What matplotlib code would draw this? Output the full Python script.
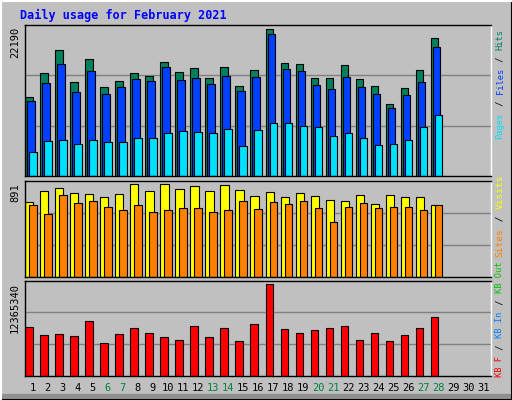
import matplotlib
matplotlib.use("Agg")
import matplotlib.pyplot as plt
import matplotlib.transforms as mtr
import numpy as np

days = list(range(1, 32))
n = 28
def sc(tops, base, span, vmax):
    return [(base - t) / span * vmax for t in tops]

hits_px = [232,160,91,187,118,202,184,160,169,127,157,145,175,142,199,151,28,130,133,175,175,136,178,199,253,205,151,55]
files_px = [244,190,133,217,154,223,202,178,184,142,181,175,193,169,214,172,43,148,154,196,208,172,202,223,265,226,187,82]
pages_px = [397,364,361,373,361,367,367,355,355,340,334,337,340,328,379,331,310,310,319,322,349,340,355,376,373,361,322,286]
visits_px = [547,514,505,520,523,532,523,493,514,493,508,499,514,496,511,529,517,532,520,529,541,544,526,553,526,532,532,556]
sites_px = [556,583,526,550,544,562,571,556,577,571,565,565,577,571,544,568,547,553,544,565,607,562,550,565,562,562,571,556]
kb_px = [922,946,943,949,904,970,943,925,940,952,961,919,952,925,964,913,793,928,940,931,925,919,961,940,964,946,925,892]

max_hits = 22190
max_visits = 891
max_kb = 12365340
hits = sc(hits_px, 468, 440, max_hits)
files = sc(files_px, 468, 440, max_hits)
pages = sc(pages_px, 468, 440, max_hits)
visits = sc(visits_px, 769, 276, max_visits)
sites = sc(sites_px, 769, 276, max_visits)
kbytes = sc(kb_px, 1067, 274, max_kb)
weekends = [6, 7, 13, 14, 20, 21, 27, 28]

BG = "#C0C0C0"
fig = plt.figure(figsize=(5.12, 4.0), dpi=100, facecolor=BG)
W, H = 512, 400
def ax_at(x0, y0, x1, y1):
    return fig.add_axes([x0 / W, 1 - y1 / H, (x1 - x0) / W, (y1 - y0) / H])

ax1 = ax_at(25, 25, 491, 176)
ax2 = ax_at(25, 180.5, 491, 276.5)
ax3 = ax_at(25, 280.5, 491, 376)
x = np.arange(1, n + 1)
ec = dict(edgecolor="black", linewidth=0.8, align="edge")
ax1.bar(x - 0.5, hits, 0.5, color="#00805c", **ec)
ax1.bar(x - 0.5 + 0.133, files, 0.5, color="#0040ff", **ec)
ax1.bar(x - 0.5 + 0.267, pages, 0.5, color="#00e0ff", **ec)
ax2.bar(x - 0.5, visits, 0.55, color="#ffff00", **ec)
ax2.bar(x - 0.5 + 0.267, sites, 0.5, color="#ff8000", **ec)
ax3.bar(x - 0.5, kbytes, 0.5, color="#ff0000", **ec)

for ax, top in [(ax1, max_hits * 453 / 440), (ax2, max_visits * 287 / 276), (ax3, max_kb * 285 / 274)]:
    ax.set_facecolor(BG)
    ax.set_xlim(0.5, 31.5)
    ax.set_ylim(0, top)
    for f in (1 / 3, 2 / 3):
        ax.axhline(top * f, color="#808080", lw=1, zorder=0)
    ax.set_xticks([]); ax.set_yticks([])
    for s in ax.spines.values():
        s.set_color("black"); s.set_linewidth(1)
    ax.spines["right"].set_color("white")

mono = "DejaVu Sans Mono"
fig.text(20 / W, 1 - 15 / H, "Daily usage for February 2021", color="#0000ff",
         family=mono, weight="bold", fontsize=8.5, ha="left", va="center")

for y, lab in [(27, "22190"), (183, "891"), (283, "12365340")]:
    fig.text(15 / W, 1 - y / H, lab, rotation=90, family=mono, fontsize=7.5,
             ha="center", va="top")

tr = mtr.blended_transform_factory(ax3.transData, fig.transFigure)
for d in days:
    ax3.text(d, 1 - 388 / H, str(d), transform=tr, family=mono, fontsize=7.5,
             ha="center", va="center", color="#008040" if d in weekends else "black")

def vlabel(parts, ybottom, fs):
    pos = ybottom
    cw = 0.602 * fs * 100 / 72 + 0.3
    for txt, col in parts:
        fig.text(500 / W, 1 - pos / H, txt, rotation=90, family=mono, fontsize=fs,
                 color=col, ha="center", va="bottom")
        pos -= cw * len(txt)

vlabel([("Pages", "#00e0ff"), (" / ", "black"), ("Files", "#0040ff"), (" / ", "black"), ("Hits", "#00805c")], 139, 6.3)
vlabel([("Sites", "#ff8000"), (" / ", "black"), ("Visits", "#ffff00")], 257, 6.8)
vlabel([("KB F", "#ff0000"), (" / ", "black"), ("KB In", "#0080ff"), (" / ", "black"), ("KB Out", "#00c000")], 377, 6.3)

fig.add_artist(plt.Rectangle((0, 0), 1, 6 / H, transform=fig.transFigure, color="#909090", zorder=-1))
fig.add_artist(plt.Line2D([0, 1], [0.5 / H, 0.5 / H], transform=fig.transFigure, color="black", lw=1.5))
fig.add_artist(plt.Line2D([1 - 0.5 / W] * 2, [0, 1], transform=fig.transFigure, color="black", lw=1.5))
fig.add_artist(plt.Line2D([0.5 / W] * 2, [0, 1], transform=fig.transFigure, color="white", lw=1.5))
fig.add_artist(plt.Line2D([0, 1], [1 - 0.5 / H] * 2, transform=fig.transFigure, color="white", lw=1.5))

fig.savefig("out.png", dpi=100, facecolor=BG)
